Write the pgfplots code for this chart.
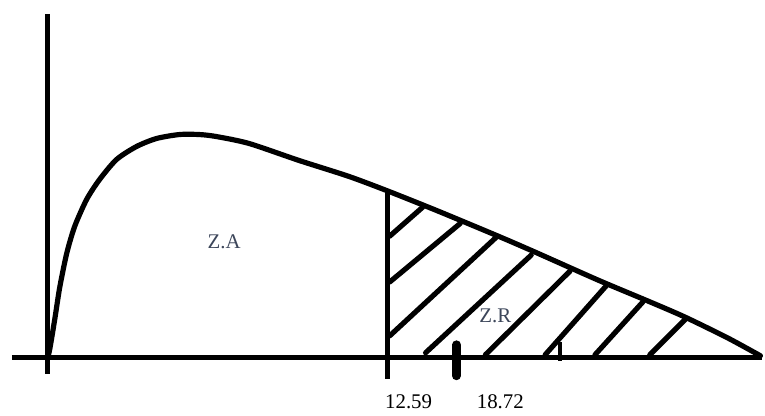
\documentclass[border=0pt]{standalone}
\usepackage{fontspec}
\setmainfont{Liberation Serif}
\usepackage{pgfplots}
\pgfplotsset{compat=1.18}
\definecolor{labgray}{RGB}{60,70,90}
\begin{document}
\begin{tikzpicture}
\begin{axis}[
  width=382.5bp, height=207.5bp, scale only axis,
  xmin=0, xmax=765, ymin=0, ymax=415, y dir=reverse,
  axis line style={draw=none}, xtick=\empty, ytick=\empty,
  clip=false,
  every axis plot/.append style={line width=2.6bp, black, mark=none, line cap=round, line join=round},
]
% axes
\addplot[black, line cap=butt] coordinates {(48,14) (48,375)};
\addplot[black, line cap=butt] coordinates {(12,359) (765,359)};
% density curve
\addplot[black, smooth, tension=0.45] coordinates {
(48,358) (50,350) (55,320) (60,288) (67,254) (75,227) (87,200) (100,180)
(117,160) (137,147) (157,139) (180,135) (200,135) (217,137) (250,144)
(300,161) (350,177) (390,192) (440,212) (500,237) (537,253) (600,281)
(650,302) (687,318) (730,339) (763,357)};
% critical value line
\addplot[black, line cap=butt] coordinates {(389,192) (389,380)};
% test statistic tick
\addplot[black, line width=4.5bp] coordinates {(458,346) (458,377)};
% small tick
\addplot[black, line width=2.2bp, line cap=butt] coordinates {(562,343) (562,362)};
% hatching
\addplot[black] coordinates {(391,237) (424,208)};
\addplot[black] coordinates {(391,283) (462,224)};
\addplot[black] coordinates {(391,337) (498,238)};
\addplot[black] coordinates {(427,354) (533,256)};
\addplot[black] coordinates {(487,356) (572,272)};
\addplot[black] coordinates {(547,356) (609,286)};
\addplot[black] coordinates {(597,356) (645,303)};
\addplot[black] coordinates {(652,356) (688,320)};
% labels
\node[text=labgray, font=\fontsize{10.5}{12}\selectfont] at (axis cs:225,243) {Z.A};
\node[text=labgray, font=\fontsize{10.5}{12}\selectfont, fill=white, inner sep=0.5pt] at (axis cs:497,317) {Z.R};
\node[font=\fontsize{10.5}{12}\selectfont] at (axis cs:410,403) {12.59};
\node[font=\fontsize{10.5}{12}\selectfont] at (axis cs:502,403) {18.72};
\end{axis}
\end{tikzpicture}
\end{document}
